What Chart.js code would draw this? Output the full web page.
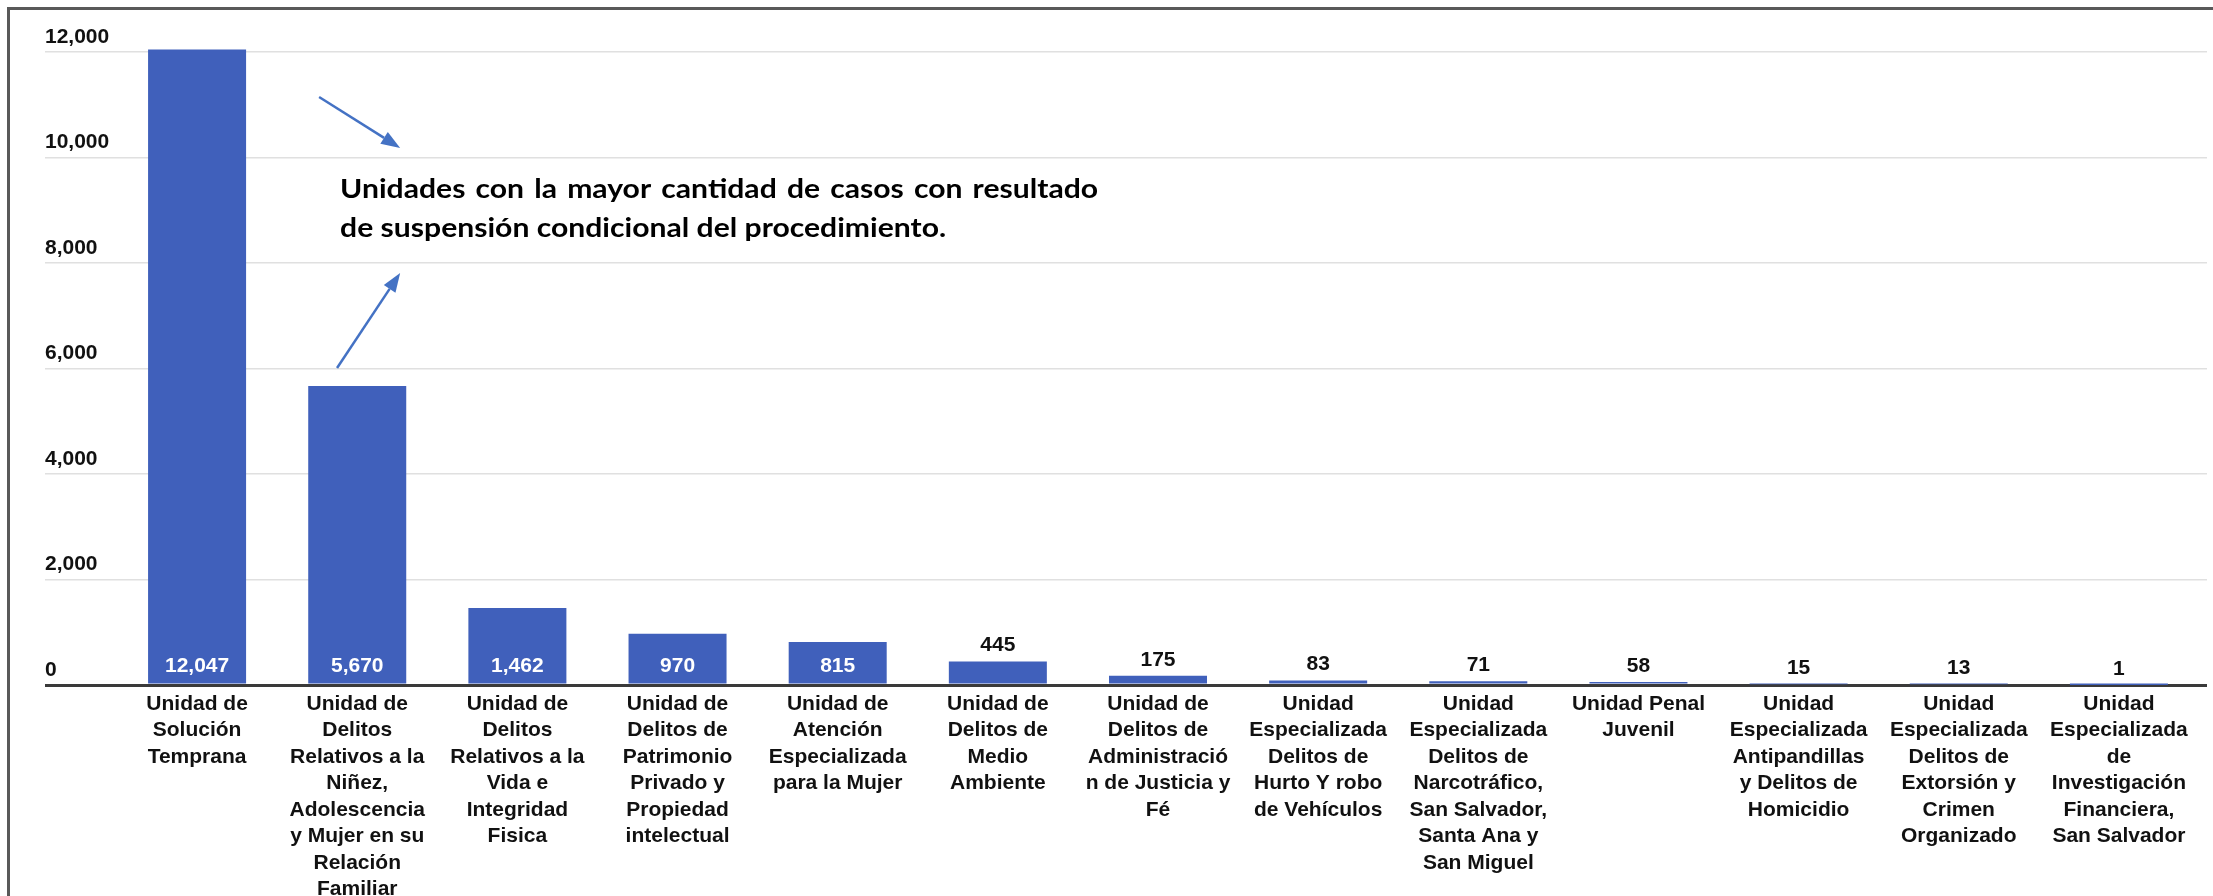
<!DOCTYPE html>
<html>
<head>
<meta charset="utf-8">
<script src="https://cdn.jsdelivr.net/npm/chart.js@4/dist/chart.umd.min.js"></script>
<style>
	html, body { margin: 0; padding: 0; background: #fff; overflow: hidden; }
	#wrap { position: relative; width: 2213px; height: 896px; }
	#frame {
		position: absolute; left: 7px; top: 7px; right: -10px; bottom: -10px;
		border-top: 3px solid #595959; border-left: 3px solid #595959;
		pointer-events: none;
	}
	canvas { position: absolute; left: 0; top: 0; }
</style>
</head>
<body>
<div id="wrap">
	<canvas id="chart" width="2213" height="896"></canvas>
	<div id="frame"></div>
</div>
<script>
	"use strict"

	// Units of the prosecutor's office, wrapped as in the source chart.
	var UNITS = [
		["Unidad de", "Solución", "Temprana"],
		["Unidad de", "Delitos", "Relativos a la", "Niñez,", "Adolescencia", "y Mujer en su", "Relación", "Familiar"],
		["Unidad de", "Delitos", "Relativos a la", "Vida e", "Integridad", "Fisica"],
		["Unidad de", "Delitos de", "Patrimonio", "Privado y", "Propiedad", "intelectual"],
		["Unidad de", "Atención", "Especializada", "para la Mujer"],
		["Unidad de", "Delitos de", "Medio", "Ambiente"],
		["Unidad de", "Delitos de", "Administració", "n de Justicia y", "Fé"],
		["Unidad", "Especializada", "Delitos de", "Hurto Y robo", "de Vehículos"],
		["Unidad", "Especializada", "Delitos de", "Narcotráfico,", "San Salvador,", "Santa Ana y", "San Miguel"],
		["Unidad Penal", "Juvenil"],
		["Unidad", "Especializada", "Antipandillas", "y Delitos de", "Homicidio"],
		["Unidad", "Especializada", "Delitos de", "Extorsión y", "Crimen", "Organizado"],
		["Unidad", "Especializada", "de", "Investigación", "Financiera,", "San Salvador"],
	]

	// Cases with a conditional-suspension outcome, per unit.
	var CASES = [12047, 5670, 1462, 970, 815, 445, 175, 83, 71, 58, 15, 13, 1]

	var Y_TICKS = [0, 2000, 4000, 6000, 8000, 10000, 12000]

	var NOTE_LINES = [
		"Unidades con la mayor cantidad de casos con resultado",
		"de suspensión condicional del procedimiento.",
	]

	var BAR = "#4060bb"
	var ARROW = "#4472c4"
	var GRID = "#e0e0e0"
	var AXIS = "#3a3a3a"
	var TEXT = "#111111"
	var FONT = '"Liberation Sans", Arial, sans-serif'

	function fmt(n) {
		return Number(n).toLocaleString("en-US")
	}

	function setTicks(scale) {
		scale.ticks = Y_TICKS.map(function (v) {
			return { value: v }
		})
	}

	function gridColor(ctx) {
		return ctx.tick && ctx.tick.value === 0 ? AXIS : GRID
	}
	function gridWidth(ctx) {
		return ctx.tick && ctx.tick.value === 0 ? 3 : 1.5
	}

	// Value labels: inside the bar foot when it fits, otherwise above it.
	var valueLabels = {
		id: "valueLabels",
		afterDatasetsDraw: function (chart) {
			var c = chart.ctx
			var meta = chart.getDatasetMeta(0)
			c.save()
			c.font = "bold 21px " + FONT
			c.textAlign = "center"
			c.textBaseline = "middle"
			meta.data.forEach(function (bar, i) {
				var h = bar.base - bar.y
				if (h > 35) {
					c.fillStyle = "#ffffff"
					c.fillText(fmt(CASES[i]), bar.x, bar.base - 17)
				} else {
					c.fillStyle = TEXT
					c.fillText(fmt(CASES[i]), bar.x, bar.y - 16)
				}
			})
			c.restore()
		},
	}

	function arrow(c, x1, y1, x2, y2) {
		var ang = Math.atan2(y2 - y1, x2 - x1)
		var head = 19
		var half = 7
		var bx = x2 - head * Math.cos(ang)
		var by = y2 - head * Math.sin(ang)
		c.beginPath()
		c.moveTo(x1, y1)
		c.lineTo(bx, by)
		c.stroke()
		c.beginPath()
		c.moveTo(x2, y2)
		c.lineTo(bx + half * Math.sin(ang), by - half * Math.cos(ang))
		c.lineTo(bx - half * Math.sin(ang), by + half * Math.cos(ang))
		c.closePath()
		c.fill()
	}

	// Callout text + the two arrows, anchored on the chart's own scales.
	var callout = {
		id: "callout",
		afterDraw: function (chart) {
			var x = chart.scales.x
			var y = chart.scales.y
			var c = chart.ctx
			function px(cat) {
				return x.getPixelForValue(0) + cat * (x.getPixelForValue(1) - x.getPixelForValue(0))
			}
			c.save()
			c.strokeStyle = ARROW
			c.fillStyle = ARROW
			c.lineWidth = 2.5
			arrow(c, px(0.762), y.getPixelForValue(11147), px(1.268), y.getPixelForValue(10180))
			arrow(c, px(0.874), y.getPixelForValue(6009), px(1.268), y.getPixelForValue(7810))

			// Calibri-like look: Lato at the source cap height, squeezed to the source widths
			c.font = "bold 27px Lato, sans-serif"
			var sx = 606 / c.measureText(NOTE_LINES[1]).width
			c.fillStyle = "#000"
			c.textBaseline = "alphabetic"
			c.textAlign = "left"
			var left = px(0.893)
			c.translate(left, 0)
			c.scale(sx, 1)
			var words = NOTE_LINES[0].split(" ")
			var wsum = 0
			words.forEach(function (w) {
				wsum += c.measureText(w).width
			})
			var gap = (758 / sx - wsum) / (words.length - 1)
			var cx = 0
			var y1 = y.getPixelForValue(9238)
			words.forEach(function (w) {
				c.fillText(w, cx, y1)
				cx += c.measureText(w).width + gap
			})
			c.fillText(NOTE_LINES[1], 0, y.getPixelForValue(8499))
			c.restore()
		},
	}

	new Chart(document.getElementById("chart"), {
		type: "bar",
		data: {
			labels: UNITS,
			datasets: [
				{
					data: CASES,
					backgroundColor: BAR,
					borderWidth: 0,
					categoryPercentage: 1,
					barPercentage: 0.612,
					clip: false,
				},
			],
		},
		options: {
			responsive: false,
			animation: false,
			devicePixelRatio: 1,
			layout: { padding: { left: 45, top: 52, right: 6, bottom: 0 } },
			plugins: {
				legend: { display: false },
				tooltip: { enabled: false },
			},
			scales: {
				x: {
					grid: { display: false },
					border: { display: false },
					ticks: {
						autoSkip: false,
						maxRotation: 0,
						minRotation: 0,
						padding: -2,
						color: TEXT,
						font: { family: FONT, size: 21, weight: "bold", lineHeight: 1.26 },
					},
					afterFit: function (s) {
						s.height = 211
					},
				},
				y: {
					min: 0,
					max: 12000,
					afterBuildTicks: setTicks,
					border: { display: false },
					grid: {
						color: gridColor,
						tickColor: gridColor,
						lineWidth: gridWidth,
						drawTicks: true,
						tickLength: 72,
					},
					ticks: {
						crossAlign: "far",
						labelOffset: -15,
						color: TEXT,
						font: { family: FONT, size: 21, weight: "bold" },
						callback: function (v) {
							return fmt(v)
						},
					},
					afterFit: function (s) {
						s.width = 72
					},
				},
				y2: {
					position: "right",
					min: 0,
					max: 12000,
					afterBuildTicks: setTicks,
					border: { display: false },
					grid: {
						drawOnChartArea: false,
						tickColor: gridColor,
						lineWidth: gridWidth,
						tickLength: 8,
					},
					ticks: { display: false },
					afterFit: function (s) {
						s.width = 8
					},
				},
			},
		},
		plugins: [valueLabels, callout],
	})
</script>
</body>
</html>
